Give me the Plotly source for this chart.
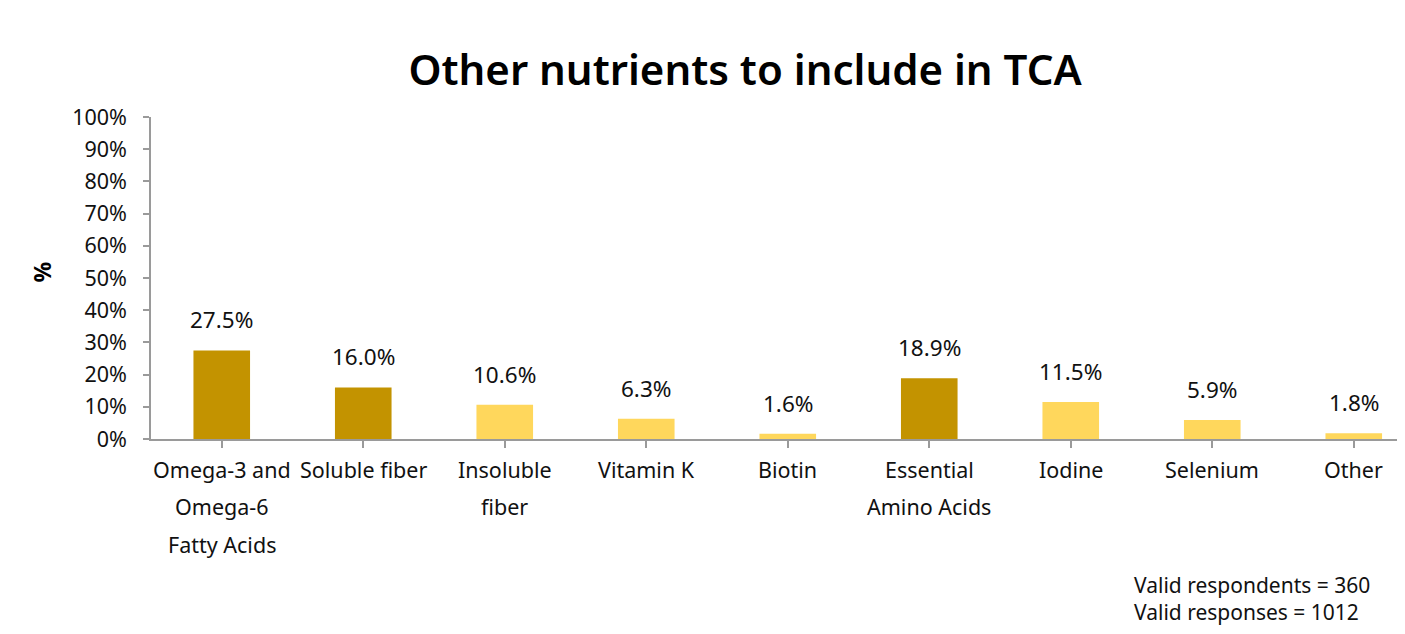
import plotly.graph_objects as go

categories = ["Omega-3 and<br>Omega-6<br>Fatty Acids", "Soluble fiber", "Insoluble<br>fiber",
              "Vitamin K", "Biotin", "Essential<br>Amino Acids", "Iodine", "Selenium", "Other"]
values = [27.5, 16.0, 10.6, 6.3, 1.6, 18.9, 11.5, 5.9, 1.8]
highlight = [True, True, False, False, False, True, False, False, False]
y_ticks = list(range(0, 101, 10))
y_tick_labels = [f"{v}%" for v in y_ticks]
footer_lines = ["Valid respondents = 360", "Valid responses = 1012"]

DARK = "#C39300"
LIGHT = "#FFD75C"
FONT = "Noto Sans"

cat_ids = list(range(len(categories)))
colors = [DARK if h else LIGHT for h in highlight]

fig = go.Figure()
fig.add_trace(go.Bar(
    x=cat_ids, y=values, marker=dict(color=colors, line=dict(width=0)),
    width=0.4, hoverinfo="skip", showlegend=False,
))

annotations = []
# value labels
for i, v in enumerate(values):
    annotations.append(dict(
        x=i, y=v, xref="x", yref="y", text=f"{v:.1f}%", showarrow=False,
        yanchor="bottom", yshift=13, font=dict(family=FONT, size=22.5, color="#111111"),
    ))
# category labels (custom line spacing)
for i, c in enumerate(categories):
    for j, line in enumerate(c.split("<br>")):
        annotations.append(dict(
            x=i, y=0, xref="x", yref="y", text=line, showarrow=False,
            yanchor="middle", yshift=-(30 + 37.5 * j),
            font=dict(family=FONT, size=21.5, color="#111111"),
        ))
# y axis title
annotations.append(dict(
    x=-0.087, y=0.52, xref="paper", yref="paper", text="<b>%</b>", showarrow=False,
    textangle=-90, xanchor="center", yanchor="middle",
    font=dict(family=FONT, size=23, color="#000000"),
))
# footer
annotations.append(dict(
    x=0.7837, y=-0.495, xref="paper", yref="paper", align="left",
    text="<br>".join(footer_lines), showarrow=False, borderpad=0,
    xanchor="left", yanchor="middle",
    font=dict(family=FONT, size=21, color="#111111"),
))

fig.update_layout(
    width=1397, height=626,
    margin=dict(l=143, r=1, t=109, b=195),
    paper_bgcolor="white", plot_bgcolor="white",
    title=dict(text="Other nutrients to include in TCA", x=0.5276, xanchor="center",
               y=0.901, yanchor="middle",
               font=dict(family=FONT, size=42, color="#000000", weight=600)),
    xaxis=dict(
        range=[-0.5, 8.355], tickmode="array", tickvals=cat_ids,
        showticklabels=False, tickson="boundaries", ticks="outside", ticklen=7,
        tickcolor="#9a9a9a", tickwidth=1.5,
        showline=True, linecolor="#9a9a9a", linewidth=1.5, showgrid=False, zeroline=False,
    ),
    yaxis=dict(
        range=[0, 100], tickmode="array", tickvals=y_ticks, ticktext=y_tick_labels,
        ticks="outside", ticklen=6, tickcolor="#9a9a9a", tickwidth=1.5,
        showline=True, linecolor="#9a9a9a", linewidth=1.5, showgrid=False, zeroline=False,
        tickfont=dict(family=FONT, size=21.5, color="#111111"), ticklabelstandoff=12,
    ),
    annotations=annotations,
    bargap=0.6,
)

fig.write_html("out.html")
